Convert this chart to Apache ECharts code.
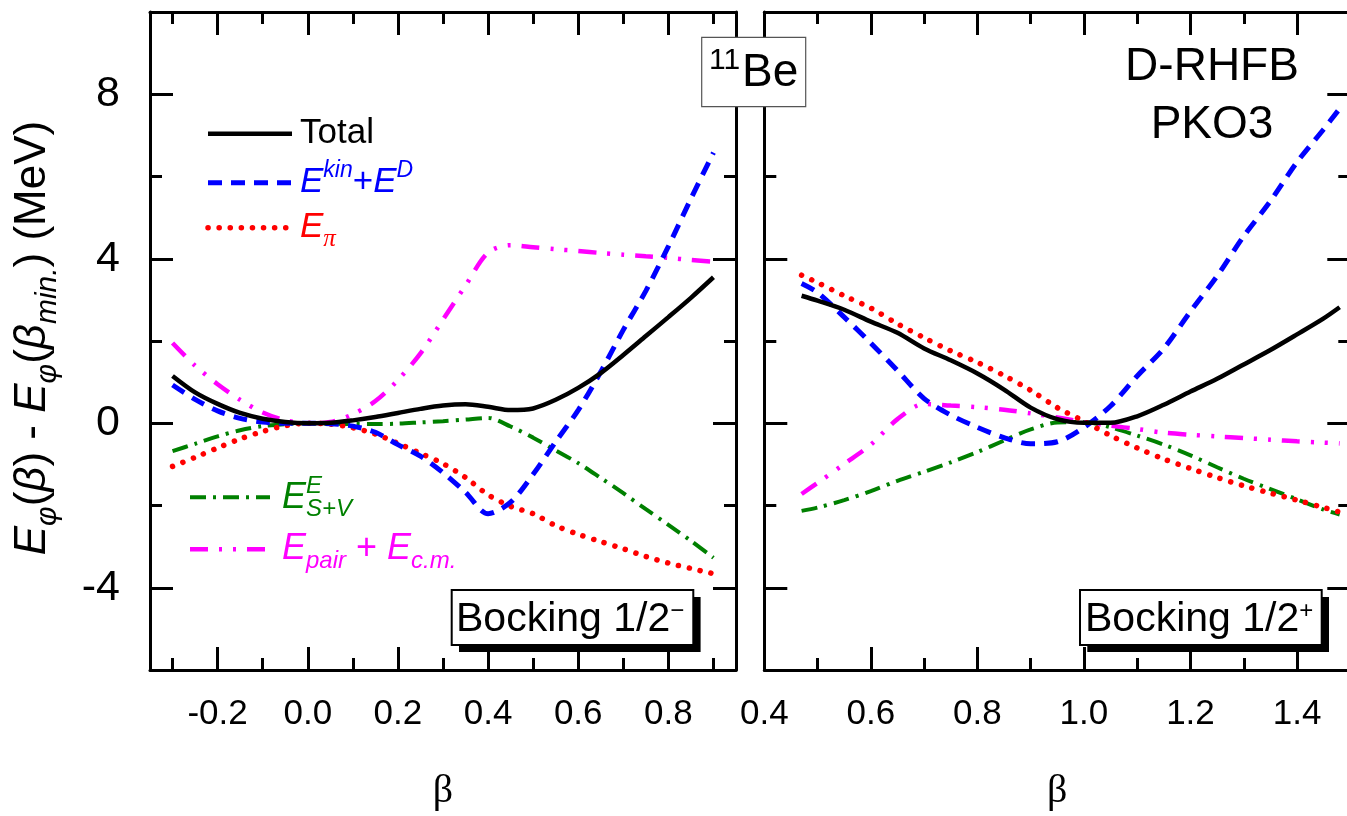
<!DOCTYPE html>
<html>
<head>
<meta charset="utf-8">
<script src="https://cdn.jsdelivr.net/npm/echarts@6/dist/echarts.min.js"></script>
<style>
  html, body { margin: 0; padding: 0; background: #fff; }
  #chart { width: 1347px; height: 816px; }
</style>
</head>
<body>
<div id="chart"></div>
<script>
// ---- Energy components vs deformation beta, 11Be, D-RHFB with PKO3 ----
// Left panel: blocking 1/2-, right panel: blocking 1/2+ (MeV, relative to the minimum)

const betaL = [-0.30, -0.25, -0.20, -0.15, -0.10, -0.05, 0.00, 0.05, 0.10, 0.15, 0.20, 0.25, 0.30,
               0.35, 0.40, 0.45, 0.50, 0.55, 0.60, 0.65, 0.70, 0.75, 0.80, 0.85, 0.90];
const totalL = [1.15, 0.75, 0.47, 0.25, 0.11, 0.03, 0.00, 0.01, 0.07, 0.15, 0.25, 0.35, 0.43,
                0.46, 0.40, 0.32, 0.36, 0.57, 0.86, 1.22, 1.66, 2.12, 2.58, 3.05, 3.55];
const kinL   = [0.93, 0.58, 0.30, 0.12, 0.03, 0.00, 0.00, -0.01, -0.07, -0.22, -0.52, -0.80, -1.20,
                -1.68, -2.20, -1.92, -1.24, -0.45, 0.32, 1.25, 2.27, 3.22, 4.30, 5.46, 6.58];
const piL    = [-1.05, -0.83, -0.60, -0.38, -0.20, -0.06, 0.00, -0.02, -0.11, -0.26, -0.49, -0.73, -0.98,
                -1.32, -1.74, -2.02, -2.20, -2.49, -2.70, -2.88, -3.05, -3.24, -3.40, -3.53, -3.66];
const svL    = [-0.68, -0.50, -0.32, -0.17, -0.07, -0.02, 0.00, -0.01, -0.02, -0.02, -0.01, 0.02, 0.05,
                0.09, 0.13, -0.08, -0.35, -0.66, -0.97, -1.33, -1.70, -2.09, -2.47, -2.86, -3.27];
const pairL  = [1.95, 1.40, 0.95, 0.57, 0.26, 0.07, 0.00, 0.03, 0.22, 0.54, 1.05, 1.70, 2.52,
                3.35, 4.15, 4.33, 4.28, 4.23, 4.19, 4.14, 4.10, 4.06, 4.02, 3.97, 3.93];

const betaR = [0.47, 0.50, 0.55, 0.60, 0.65, 0.70, 0.75, 0.80, 0.85, 0.90, 0.95, 1.00, 1.05,
               1.10, 1.15, 1.20, 1.25, 1.30, 1.35, 1.40, 1.45, 1.48];
const totalR = [3.10, 2.98, 2.76, 2.47, 2.20, 1.82, 1.53, 1.21, 0.82, 0.38, 0.10, 0.01, 0.01,
                0.17, 0.45, 0.77, 1.08, 1.43, 1.78, 2.16, 2.55, 2.82];
const kinR   = [3.40, 3.18, 2.58, 1.95, 1.28, 0.60, 0.20, -0.10, -0.35, -0.50, -0.45, -0.10, 0.42,
                1.15, 1.82, 2.72, 3.58, 4.55, 5.40, 6.35, 7.15, 7.65];
const piR    = [3.60, 3.42, 3.10, 2.80, 2.42, 2.08, 1.76, 1.48, 1.16, 0.80, 0.38, 0.05, -0.30,
                -0.60, -0.87, -1.10, -1.32, -1.52, -1.70, -1.87, -2.05, -2.16];
const svR    = [-2.13, -2.05, -1.87, -1.65, -1.40, -1.18, -0.95, -0.70, -0.42, -0.15, 0.02, 0.03, -0.10,
                -0.30, -0.52, -0.78, -1.07, -1.35, -1.60, -1.85, -2.10, -2.22];
const pairR  = [-1.72, -1.45, -0.99, -0.52, 0.10, 0.47, 0.43, 0.39, 0.33, 0.24, 0.14, 0.03, -0.06,
                -0.14, -0.23, -0.28, -0.32, -0.36, -0.40, -0.44, -0.47, -0.49];

// Tick values
const xMajorL = [-0.2, 0.0, 0.2, 0.4, 0.6, 0.8];
const xMinorL = [-0.3, -0.1, 0.1, 0.3, 0.5, 0.7, 0.9];
const xLabelR = [0.4, 0.6, 0.8, 1.0, 1.2, 1.4];
const xMajorR = [0.6, 0.8, 1.0, 1.2, 1.4];
const xMinorR = [0.5, 0.7, 0.9, 1.1, 1.3];
const yMajor = [-4, 0, 4, 8];
const yMinor = [-2, 2, 6];

// ---- styling ----
const SANS = "'Liberation Sans', Arial, sans-serif";
const SERIF = "'Liberation Serif', 'Times New Roman', serif";
const LS = {
  total: { color: '#000000', width: 4.5, type: 'solid' },
  kin:   { color: '#0000ff', width: 5, type: [14, 9] },
  pi:    { color: '#ff0000', width: 5.5, type: [0.1, 11], cap: 'round' },
  sv:    { color: '#008000', width: 4, type: [16, 7, 3, 7] },
  pair:  { color: '#ff00ff', width: 4.5, type: [18, 11, 3, 11, 3, 11] }
};

const gridL = { left: 150, top: 12, width: 586, height: 658 };
const gridR = { left: 764.3, top: 12, width: 586, height: 658 };

function grids() {
  const g = [];
  [gridL, gridL, gridR, gridR].forEach(r => g.push(Object.assign({ containLabel: false, outerBoundsMode: 'none' }, r)));
  return g;
}

function xPair(gi, min, max, ticks, len, labels, withLine) {
  const line = { show: withLine, onZero: false, lineStyle: { color: '#000', width: 3 } };
  const bottom = {
    type: 'value', gridIndex: gi, min, max, position: 'bottom',
    splitLine: { show: false },
    axisLine: line,
    axisTick: { show: true, inside: true, length: len, customValues: ticks, lineStyle: { color: '#000', width: 3 } },
    axisLabel: labels ? {
      show: true, customValues: labels, showMinLabel: true, showMaxLabel: true,
      formatter: v => v.toFixed(1), margin: 27, fontSize: 35, color: '#000', fontFamily: SANS
    } : { show: false }
  };
  if (labels) {
    bottom.name = '\u03b2';
    bottom.nameLocation = 'middle';
    bottom.nameGap = 101;
    bottom.nameTextStyle = { fontFamily: SERIF, fontSize: 40, color: '#000' };
  }
  const top = {
    type: 'value', gridIndex: gi, min, max, position: 'top',
    splitLine: { show: false },
    axisLine: line,
    axisTick: { show: true, inside: true, length: len, customValues: ticks, lineStyle: { color: '#000', width: 3 } },
    axisLabel: { show: false }
  };
  return [bottom, top];
}

function yPair(gi, ticks, len, labels, withLine) {
  const line = { show: withLine, onZero: false, lineStyle: { color: '#000', width: 3 } };
  const left = {
    type: 'value', gridIndex: gi, min: -6, max: 10, position: 'left',
    splitLine: { show: false },
    axisLine: line,
    axisTick: { show: true, inside: true, length: len, customValues: ticks, lineStyle: { color: '#000', width: 3 } },
    axisLabel: labels ? {
      show: true, customValues: labels, formatter: v => String(v),
      margin: 30, fontSize: 43, color: '#000', fontFamily: SANS
    } : { show: false }
  };
  const right = {
    type: 'value', gridIndex: gi, min: -6, max: 10, position: 'right',
    splitLine: { show: false },
    axisLine: line,
    axisTick: { show: true, inside: true, length: len, customValues: ticks, lineStyle: { color: '#000', width: 3 } },
    axisLabel: { show: false }
  };
  return [left, right];
}

const xAxis = [].concat(
  xPair(0, -0.35, 0.95, xMajorL, 23, xMajorL, true),   // 0,1
  xPair(1, -0.35, 0.95, xMinorL, 12, null, false),     // 2,3
  xPair(2, 0.4, 1.5, xMajorR, 23, xLabelR, true),      // 4,5
  xPair(3, 0.4, 1.5, xMinorR, 12, null, false)         // 6,7
);
const yAxis = [].concat(
  yPair(0, yMajor, 23, yMajor, true),                  // 0,1
  yPair(1, yMinor, 12, null, false),                   // 2,3
  yPair(2, yMajor, 23, null, true),                    // 4,5
  yPair(3, yMinor, 12, null, false)                    // 6,7
);

function line(name, beta, vals, xi, yi, st, z) {
  return {
    type: 'line', name, xAxisIndex: xi, yAxisIndex: yi,
    data: beta.map((b, i) => [b, vals[i]]),
    showSymbol: false, symbol: 'none', smooth: 0.3, silent: true,
    lineStyle: Object.assign({}, st), z
  };
}

const series = [
  line('E_S+V', betaL, svL, 0, 0, LS.sv, 2),
  line('E_pair+E_cm', betaL, pairL, 0, 0, LS.pair, 3),
  line('E_pi', betaL, piL, 0, 0, LS.pi, 4),
  line('E_kin+E_D', betaL, kinL, 0, 0, LS.kin, 5),
  line('Total', betaL, totalL, 0, 0, LS.total, 6),
  line('E_S+V', betaR, svR, 4, 4, LS.sv, 2),
  line('E_pair+E_cm', betaR, pairR, 4, 4, LS.pair, 3),
  line('E_pi', betaR, piR, 4, 4, LS.pi, 4),
  line('E_kin+E_D', betaR, kinR, 4, 4, LS.kin, 5),
  line('Total', betaR, totalR, 4, 4, LS.total, 6)
];

// ---- legend, labels and boxes ----
function legendLine(x1, x2, y, st) {
  const s = { stroke: st.color, lineWidth: st.width, lineCap: st.cap || 'butt' };
  if (Array.isArray(st.type)) s.lineDash = st.type;
  return { type: 'line', shape: { x1, y1: y, x2, y2: y }, style: s, z: 50, silent: true };
}

function richSet(color, main, small) {
  return {
    m:  { fontFamily: SANS, fontSize: main, fontStyle: 'italic', fill: color, lineHeight: 48, verticalAlign: 'middle' },
    r:  { fontFamily: SANS, fontSize: main, fill: color, lineHeight: 48, verticalAlign: 'middle' },
    sp: { fontFamily: SANS, fontSize: small, fontStyle: 'italic', fill: color, lineHeight: 28, verticalAlign: 'top' },
    sb: { fontFamily: SANS, fontSize: small, fontStyle: 'italic', fill: color, lineHeight: 23, verticalAlign: 'bottom' },
    gb: { fontFamily: SERIF, fontSize: small + 2, fontStyle: 'italic', fill: color, lineHeight: 23, verticalAlign: 'bottom' }
  };
}

function rtext(x, y, text, rich, extra) {
  return Object.assign({
    type: 'text', x, y, z: 60, silent: true,
    style: { text, rich, align: 'left', verticalAlign: 'middle' }
  }, extra || {});
}

function ptext(x, y, text, size, color, opts) {
  opts = opts || {};
  return {
    type: 'text', x, y, z: opts.z || 60, silent: true,
    style: {
      text, fill: color, fontFamily: opts.family || SANS, fontSize: size,
      fontStyle: opts.italic ? 'italic' : 'normal',
      align: opts.align || 'left', verticalAlign: 'middle'
    }
  };
}

const graphic = [
  // legend (upper group)
  legendLine(208, 292, 133.7, LS.total),
  ptext(300, 133.7, 'Total', 35, '#000'),
  legendLine(208, 292, 182.7, LS.kin),
  rtext(300, 182.7, '{m|E}{sp|kin}{r|+}{m|E}{sp|D}', richSet('#0000ff', 35, 23)),
  legendLine(208, 290, 227.7, LS.pi),
  rtext(300, 227.7, '{m|E}{gb|\u03c0}', richSet('#ff0000', 35, 23)),
  // legend (lower group)
  legendLine(190, 270, 497.3, LS.sv),
  ptext(282, 497.5, 'E', 36, '#008000', { italic: true }),
  ptext(306, 486.5, 'E', 24, '#008000', { italic: true }),
  ptext(306, 509.5, 'S+V', 24, '#008000', { italic: true }),
  legendLine(190, 270, 549.3, LS.pair),
  rtext(282, 549.3, '{m|E}{sb|pair}{r| + }{m|E}{sb|c.m.}', richSet('#ff00ff', 36, 24)),

  // nucleus label box
  { type: 'rect', shape: { x: 701.7, y: 37.3, width: 104, height: 69.4 },
    style: { fill: '#ffffff', stroke: '#555555', lineWidth: 1.2 }, z: 70, silent: true },
  ptext(709, 61, '11', 30, '#000', { z: 71 }),
  ptext(742, 73.5, 'Be', 46, '#000', { z: 71 }),

  // model label
  ptext(1212, 67.5, 'D-RHFB', 46, '#000', { align: 'center' }),
  ptext(1212, 125.5, 'PKO3', 46, '#000', { align: 'center' }),

  // blocking boxes with drop shadow
  { type: 'rect', shape: { x: 459, y: 597, width: 241.6, height: 55 }, style: { fill: '#000' }, z: 70, silent: true },
  { type: 'rect', shape: { x: 451.7, y: 590, width: 241.6, height: 55 },
    style: { fill: '#fff', stroke: '#000', lineWidth: 2 }, z: 71, silent: true },
  rtext(456, 620, '{a|Bocking 1/2}{b|\u2212}', {
    a: { fontFamily: SANS, fontSize: 41, fill: '#000', lineHeight: 41, verticalAlign: 'middle' },
    b: { fontFamily: SANS, fontSize: 24, fill: '#000', lineHeight: 24, verticalAlign: 'top' }
  }, { z: 72 }),
  { type: 'rect', shape: { x: 1087.3, y: 597, width: 241.7, height: 55 }, style: { fill: '#000' }, z: 70, silent: true },
  { type: 'rect', shape: { x: 1080, y: 590, width: 241.7, height: 55 },
    style: { fill: '#fff', stroke: '#000', lineWidth: 2 }, z: 71, silent: true },
  rtext(1085, 620, '{a|Bocking 1/2}{b|+}', {
    a: { fontFamily: SANS, fontSize: 41, fill: '#000', lineHeight: 41, verticalAlign: 'middle' },
    b: { fontFamily: SANS, fontSize: 24, fill: '#000', lineHeight: 24, verticalAlign: 'top' }
  }, { z: 72 }),

  // y-axis title
  {
    type: 'text', x: 33, y: 338, rotation: Math.PI / 2, z: 60, silent: true,
    style: {
      text: '{m|E}{sb|\u03c6}{r|(}{m|\u03b2}{r|) - }{m|E}{sb|\u03c6}{r|(}{m|\u03b2}{sb|min.}{r|) (MeV)}',
      align: 'center', verticalAlign: 'middle',
      rich: {
        m:  { fontFamily: SANS, fontSize: 44, fontStyle: 'italic', fill: '#000', lineHeight: 60, verticalAlign: 'middle' },
        r:  { fontFamily: SANS, fontSize: 44, fill: '#000', lineHeight: 60, verticalAlign: 'middle' },
        sb: { fontFamily: SANS, fontSize: 30, fontStyle: 'italic', fill: '#000', lineHeight: 30, verticalAlign: 'bottom' }
      }
    }
  }
];

const chart = echarts.init(document.getElementById('chart'), null, { renderer: 'canvas' });
chart.setOption({
  animation: false,
  backgroundColor: '#ffffff',
  grid: grids(),
  xAxis,
  yAxis,
  series,
  graphic
});
</script>
</body>
</html>
